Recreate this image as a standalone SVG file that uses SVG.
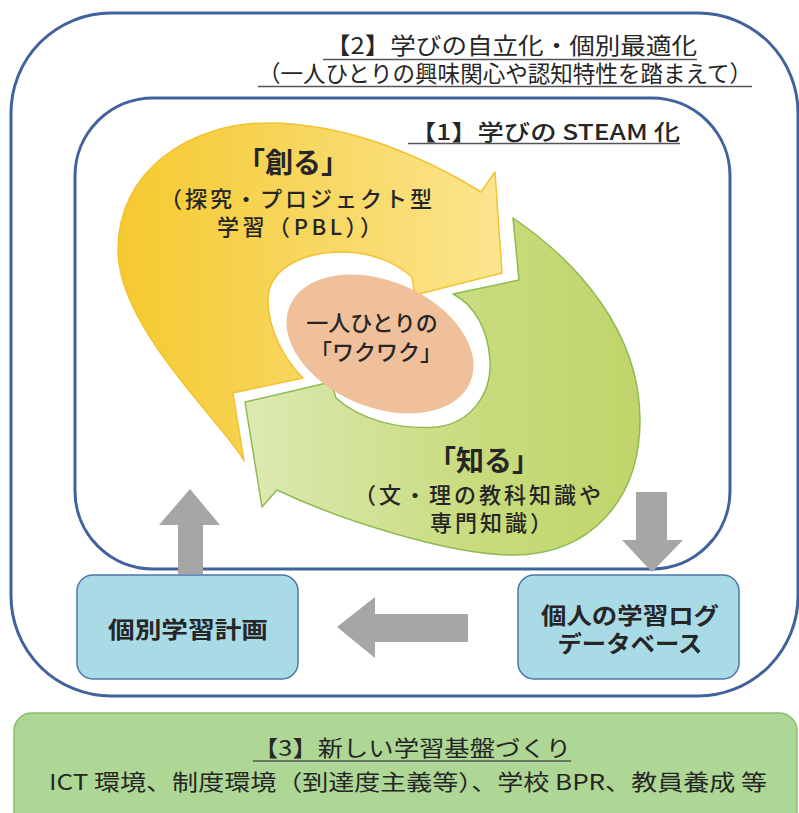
<svg xmlns="http://www.w3.org/2000/svg" width="799" height="813" viewBox="0 0 799 813">
<style>
.frame{fill:none;stroke:#41629c;stroke-width:3}
.box{fill:#a9dbe6;stroke:#4d74a8;stroke-width:1.5}
.gbox{fill:#aed796;stroke:#86bf6c;stroke-width:1.5}
.garrow{fill:#a6a6a6}
.t{font-family:"Noto Sans CJK JP","Noto Sans",sans-serif;fill:#262626}
.ttl{font-size:23px}
.sub{font-size:22px;font-weight:500;letter-spacing:3px}
.ctr{font-size:22px;font-weight:500}
.big{font-size:28px;font-weight:bold}
.bx{font-size:23px;font-weight:bold}
.base{font-size:22px;font-weight:400}
.ul{stroke:#555;stroke-width:1.5}
</style>
<defs>
<linearGradient id="gy" gradientUnits="userSpaceOnUse" x1="118" y1="0" x2="505" y2="0">
<stop offset="0" stop-color="#f5c92f"/>
<stop offset="1" stop-color="#fbe590"/>
</linearGradient>
<linearGradient id="gg" gradientUnits="userSpaceOnUse" x1="245" y1="0" x2="640" y2="0">
<stop offset="0" stop-color="#dde9b3"/>
<stop offset="0.6" stop-color="#c8db7c"/>
<stop offset="1" stop-color="#bfd56a"/>
</linearGradient>
</defs>

<g id="frame-outer">
<rect class="frame" x="11" y="13" width="787" height="683" rx="100" ry="100"/>
<text class="t ttl" x="697" y="54" text-anchor="end" textLength="372" lengthAdjust="spacingAndGlyphs">【2】学びの自立化・個別最適化</text>
<line class="ul" x1="323" y1="59.5" x2="697" y2="59.5"/>
<text class="t ttl" x="752" y="82" text-anchor="end" textLength="494" lengthAdjust="spacingAndGlyphs">（一人ひとりの興味関心や認知特性を踏まえて）</text>
<line class="ul" x1="258" y1="86.5" x2="752" y2="86.5"/>
</g>

<g id="frame-inner">
<rect class="frame" x="75" y="98" width="655" height="471" rx="78" ry="78"/>
<text class="t" x="680" y="140" text-anchor="end" font-size="22" font-weight="500" textLength="270" lengthAdjust="spacingAndGlyphs">【1】学びの STEAM 化</text>
<line class="ul" x1="408" y1="143.5" x2="680" y2="143.5"/>
</g>

<g id="node-tsukuru">
<path fill="url(#gy)" stroke="#f2c232" stroke-width="1.5" stroke-linejoin="round" d="M244,461 C230,430 118,330 118,250 C118,170 190,123 268,123 C350,123 430,160 481,192 L495,172 L502,273 L415,295 L412,277 C395,262 370,252 343,252 C300,252 268,270 268,300 C268,330 285,360 303,378 L233,393 Z"/>
<text class="t big" x="293" y="173" text-anchor="middle">「創る」</text>
<text class="t sub" x="160" y="207">（探究・プロジェクト型</text>
<text class="t sub" x="217" y="235" textLength="168" lengthAdjust="spacing">学習（PBL））</text>
</g>

<g id="node-shiru">
<path fill="url(#gg)" stroke="#8dbb52" stroke-width="1.5" stroke-linejoin="round" d="M513,218 C575,260 640,330 640,420 C640,500 590,555 513,555 C450,555 340,520 277,490 L262,507 L245,402 L331,382 L336,398 C360,420 400,430 437,427 C470,423 492,395 490,360 C488,330 475,305 453,294 L519,280 Z"/>
<text class="t big" x="484" y="471" text-anchor="middle">「知る」</text>
<text class="t sub" x="354" y="503">（文・理の教科知識や</text>
<text class="t sub" x="430" y="531">専門知識）</text>
</g>

<g id="node-wakuwaku">
<ellipse cx="380" cy="344" rx="98" ry="63" transform="rotate(23 380 344)" fill="#f0c09a"/>
<text class="t ctr" x="372" y="331" text-anchor="middle">一人ひとりの</text>
<text class="t ctr" x="376" y="360" text-anchor="middle">「ワクワク」</text>
</g>

<g id="node-plan">
<rect class="box" x="77" y="575" width="221" height="104" rx="16" ry="16"/>
<text class="t bx" x="188" y="638" text-anchor="middle" textLength="160" lengthAdjust="spacingAndGlyphs">個別学習計画</text>
</g>

<g id="node-log">
<rect class="box" x="518" y="575" width="221" height="104" rx="16" ry="16"/>
<text class="t bx" x="630" y="624" text-anchor="middle" textLength="178" lengthAdjust="spacingAndGlyphs">個人の学習ログ</text>
<text class="t bx" x="630" y="652" text-anchor="middle" textLength="145" lengthAdjust="spacingAndGlyphs">データベース</text>
</g>

<g id="connectors">
<polygon class="garrow" points="178,574 178,525 159,525 190,489 220,525 203,525 203,574"/>
<polygon class="garrow" points="636,492 667,492 667,540 683,540 652,572 622,540 636,540"/>
<polygon class="garrow" points="468,614 375,614 375,597 337,627 375,658 375,642 468,642"/>
</g>

<g id="node-base">
<rect class="gbox" x="14" y="713" width="783" height="120" rx="18" ry="18"/>
<text class="t base" x="412" y="756" text-anchor="middle" textLength="318" lengthAdjust="spacingAndGlyphs">【3】新しい学習基盤づくり</text>
<line class="ul" x1="253" y1="761" x2="571" y2="761"/>
<text class="t base" x="408" y="790" text-anchor="middle" textLength="718" lengthAdjust="spacingAndGlyphs">ICT 環境、制度環境（到達度主義等）、学校 BPR、教員養成 等</text>
</g>
</svg>
